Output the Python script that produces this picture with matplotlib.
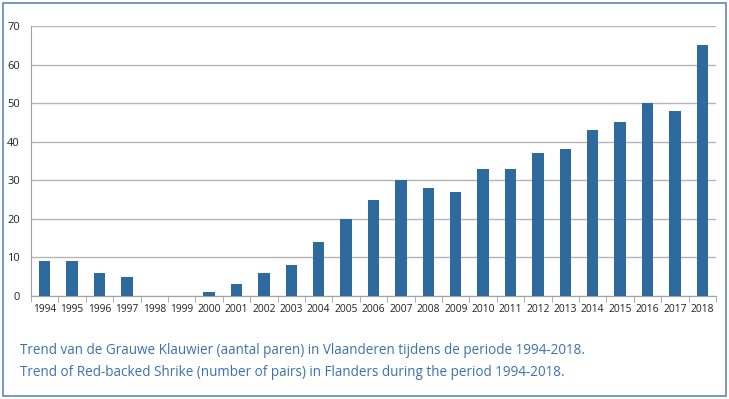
import numpy as np
import matplotlib
matplotlib.use('Agg')
import matplotlib.pyplot as plt
import matplotlib.patches as patches

# data
years = [str(y) for y in range(1994, 2019)]
pairs = [9, 9, 6, 5, 0, 0, 1, 3, 6, 8, 14, 20, 25, 30, 28, 27, 33, 33, 37, 38, 43, 45, 50, 48, 65]
yticks = [0, 10, 20, 30, 40, 50, 60, 70]
caption_nl = 'Trend van de Grauwe Klauwier (aantal paren) in Vlaanderen tijdens de periode 1994-2018.'
caption_en = 'Trend of Red-backed Shrike (number of pairs) in Flanders during the period 1994-2018.'

plt.rcParams['font.family'] = ['Open Sans', 'DejaVu Sans']

fig = plt.figure(figsize=(7.29, 3.99), dpi=100)
ax = fig.add_axes([31/729, 1-296/399, 685/729, 270/399])

x = np.arange(len(years))
ax.bar(x, pairs, width=0.42, color='#2f6a9e', zorder=3)

ax.set_xlim(-0.5, len(years)-0.5)
ax.set_ylim(0, 70)
ax.set_yticks(yticks)
ax.tick_params(axis='y', length=0, labelsize=8, pad=8, colors='#222222')
ax.yaxis.grid(True, color='#b4b4b4', lw=1, zorder=0)

ax.set_xticks(x)
ax.set_xticklabels(years, fontsize=7.4, color='#222222')
ax.tick_params(axis='x', length=0, pad=6)
ax.set_xticks(np.arange(-0.5, len(years)), minor=True)
ax.tick_params(axis='x', which='minor', length=4, color='#a0a0a0', direction='out')

for s in ['top', 'right']:
    ax.spines[s].set_visible(False)
ax.spines['left'].set_color('#a0a0a0')
ax.spines['bottom'].set_color('#a0a0a0')

fig.text(20/729, 1-350/399, caption_nl, fontsize=9.75, color='#3a72b0', va='center')
fig.text(20/729, 1-372/399, caption_en, fontsize=9.75, color='#3a72b0', va='center')

border = patches.Rectangle((3/729, 3/399), 723/729, 393/399, transform=fig.transFigure,
                           fill=False, ec='#5b87bf', lw=1.2)
fig.patches.append(border)

fig.savefig('out.png', dpi=100)
